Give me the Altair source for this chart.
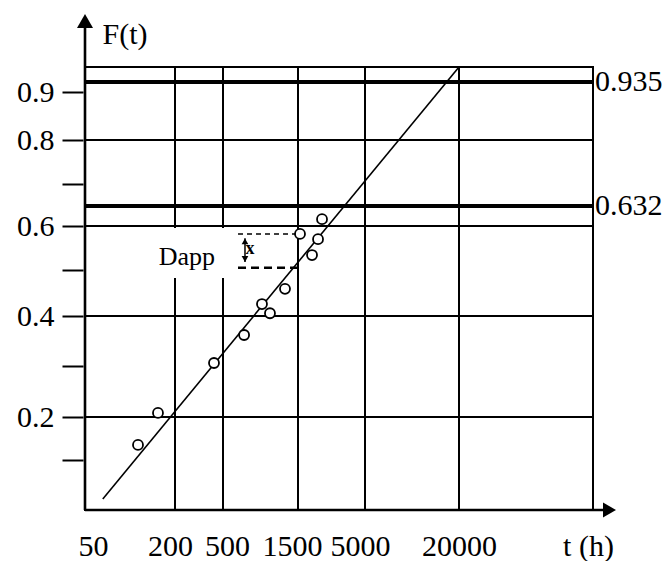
import altair as alt
import pandas as pd

# ---- data ----
T_POINTS = [107, 150, 421, 681, 885, 995, 1240, 1555, 1930, 2150, 2310]
F_POINTS = [0.135, 0.208, 0.306, 0.362, 0.426, 0.406, 0.459, 0.582, 0.534, 0.570, 0.611]

FIT_T = [59, 20000]
FIT_F = [0.022, 0.99]

X_TICKS = [50, 200, 500, 1500, 5000, 20000]
X_GRID = [200, 500, 1500, 5000, 20000]
Y_TICKS = [0.1, 0.2, 0.3, 0.4, 0.5, 0.6, 0.7, 0.8, 0.9]
Y_GRID = [0.2, 0.4, 0.6, 0.8]
REF_LEVELS = [0.632, 0.935]
REF_LABELS = ["0.632", "0.935"]

# Dapp annotation
DAPP_TEXT = "Dapp"
DAPP_T, DAPP_F = 251, 0.53
DASH_TOP = (623, 1480, 0.582)
DASH_BOT = (623, 1500, 0.505)
BOX = (44.2, 1415, 0.4826, 0.5955)
ARROW_T, ARROW_F1, ARROW_F2 = 690, 0.518, 0.572

FONT = "Liberation Serif"

# hand-drawn (schematic) paper: piecewise scales
X_DOM = [43.7, 50, 200, 500, 1500, 5000, 20000, 100000]
X_RNG = [0, 8, 90, 138, 213, 280, 374, 508]
Y_DOM = [0, 0.1, 0.2, 0.3, 0.4, 0.5, 0.6, 0.632, 0.7, 0.8, 0.9, 0.935, 0.99]
Y_RNG = [443, 393, 350, 299, 249, 203, 159, 139, 117, 73, 25, 15, 0]

W, H = 508, 443

x_axis = alt.Axis(
    values=X_TICKS, format="d", domain=False, ticks=False, tickSize=0, grid=False,
    labelPadding=21, labelFont=FONT, labelFontSize=30, labelColor="black",
    labelOverlap=False, labelFlush=False,
    labelOffset={"condition": [
        {"test": "datum.value == 200", "value": -5},
        {"test": "datum.value == 500", "value": 4},
        {"test": "datum.value == 1500", "value": -6},
        {"test": "datum.value == 5000", "value": -5},
    ], "value": 0},
    title="t (h)", titleFont=FONT, titleFontSize=30, titleFontWeight="normal",
    titleColor="black", titleX=503, titleY=45, titleAlign="center",
    titleBaseline="alphabetic",
)
y_axis = alt.Axis(
    values=Y_TICKS, domain=False, ticks=True, tickSize=21, tickWidth=2,
    tickColor="black", offset=2, grid=False,
    labelExpr="(round(datum.value*10) % 2 == 0 || datum.value > 0.85) ? format(datum.value, '.1f') : ''",
    labelPadding=8, labelFont=FONT, labelFontSize=30, labelColor="black",
    labelOverlap=False, labelFlush=False, labelBaseline="middle",
    title="F(t)", titleFont=FONT, titleFontSize=30, titleFontWeight="normal",
    titleColor="black", titleAngle=0, titleX=19, titleY=-24, titleAlign="left",
    titleBaseline="alphabetic",
)


def X(field="t"):
    return alt.X(f"{field}:Q", scale=alt.Scale(type="log", domain=X_DOM, range=X_RNG, nice=False),
                 axis=x_axis)


def Y(field="F"):
    return alt.Y(f"{field}:Q",
                 scale=alt.Scale(type="linear", domain=Y_DOM, range=Y_RNG, nice=False, zero=False),
                 axis=y_axis)


vgrid = alt.Chart(pd.DataFrame({"t": X_GRID, "F": [0.5] * len(X_GRID)})).mark_rule(
    color="black", strokeWidth=2
).encode(x=X(), y=alt.value(0), y2=alt.value(H))
hgrid = alt.Chart(pd.DataFrame({"F": Y_GRID})).mark_rule(color="black", strokeWidth=2).encode(
    y=Y(), x=alt.value(0), x2=alt.value(W)
)

box = alt.Chart(pd.DataFrame({"t": [BOX[0]], "t2": [BOX[1]], "F": [BOX[2]], "F2": [BOX[3]]})).mark_rect(
    color="white"
).encode(x=X(), x2="t2:Q", y=Y(), y2="F2:Q")

dapp = alt.Chart(pd.DataFrame({"t": [DAPP_T], "F": [DAPP_F], "txt": [DAPP_TEXT]})).mark_text(
    font=FONT, fontSize=26, align="center", baseline="middle", color="black"
).encode(x=X(), y=Y(), text="txt:N")

dash_top = alt.Chart(pd.DataFrame({"t": [DASH_TOP[0]], "t2": [DASH_TOP[1]], "F": [DASH_TOP[2]]})).mark_rule(
    color="black", strokeWidth=1.5, strokeDash=[5, 4]
).encode(x=X(), x2="t2:Q", y=Y())
dash_bot = alt.Chart(pd.DataFrame({"t": [DASH_BOT[0]], "t2": [DASH_BOT[1]], "F": [DASH_BOT[2]]})).mark_rule(
    color="black", strokeWidth=2.5, strokeDash=[8, 5]
).encode(x=X(), x2="t2:Q", y=Y())

arrow_stem = alt.Chart(pd.DataFrame({"t": [ARROW_T], "F": [ARROW_F1], "F2": [ARROW_F2]})).mark_rule(
    color="black", strokeWidth=1.5
).encode(x=X(), y=Y(), y2="F2:Q")
arrow_up = alt.Chart(pd.DataFrame({"t": [ARROW_T], "F": [ARROW_F2 - 0.007]})).mark_point(
    shape="triangle-up", filled=True, color="black", size=45, opacity=1
).encode(x=X(), y=Y())
arrow_dn = alt.Chart(pd.DataFrame({"t": [ARROW_T], "F": [ARROW_F1 + 0.007]})).mark_point(
    shape="triangle-down", filled=True, color="black", size=45, opacity=1
).encode(x=X(), y=Y())
arrow_x = alt.Chart(pd.DataFrame({"t": [743], "F": [0.548], "txt": ["x"]})).mark_text(
    font=FONT, fontSize=18, fontWeight="bold", align="center", baseline="middle", color="black"
).encode(x=X(), y=Y(), text="txt:N")

fit = alt.Chart(pd.DataFrame({"t": FIT_T, "F": FIT_F})).mark_line(color="black", strokeWidth=1.6).encode(
    x=X(), y=Y()
)

pts = alt.Chart(pd.DataFrame({"t": T_POINTS, "F": F_POINTS})).mark_point(
    shape="circle", filled=False, color="black", fill="white", fillOpacity=1,
    size=100, strokeWidth=1.8, opacity=1
).encode(x=X(), y=Y())

ref = alt.Chart(pd.DataFrame({"F": REF_LEVELS})).mark_rule(color="black", strokeWidth=4).encode(
    y=Y(), x=alt.value(0), x2=alt.value(W)
)
ref_txt = alt.Chart(pd.DataFrame({"F": REF_LEVELS, "lab": REF_LABELS})).mark_text(
    font=FONT, fontSize=30, align="left", baseline="middle", color="black"
).encode(y=Y(), x=alt.value(W + 2), text="lab:N")

# axis lines with arrow heads
dummy = pd.DataFrame({"a": [0]})
y_line = alt.Chart(dummy).mark_rule(color="black", strokeWidth=2.6).encode(
    x=alt.value(0), y=alt.value(H), y2=alt.value(-46)
)
x_line = alt.Chart(dummy).mark_rule(color="black", strokeWidth=2.6).encode(
    y=alt.value(H), x=alt.value(0), x2=alt.value(W + 17)
)
y_head = alt.Chart(dummy).mark_point(
    shape="triangle-up", filled=True, color="black", size=256, opacity=1
).encode(x=alt.value(0), y=alt.value(-46))
x_head = alt.Chart(dummy).mark_point(
    shape="triangle-right", filled=True, color="black", size=225, opacity=1
).encode(x=alt.value(W + 16.5), y=alt.value(H))

chart = alt.layer(
    vgrid, hgrid, box, dapp, dash_top, dash_bot, arrow_stem, arrow_up, arrow_dn, arrow_x,
    fit, pts, ref, ref_txt, y_line, x_line, y_head, x_head,
).properties(
    width=W, height=H,
    autosize=alt.AutoSizeParams(type="none"),
    padding={"left": 85, "top": 67, "right": 77, "bottom": 51},
    background="white",
).configure_view(stroke="black", strokeWidth=2)

chart.save("out.html", embed_options={"renderer": "svg", "actions": False})
